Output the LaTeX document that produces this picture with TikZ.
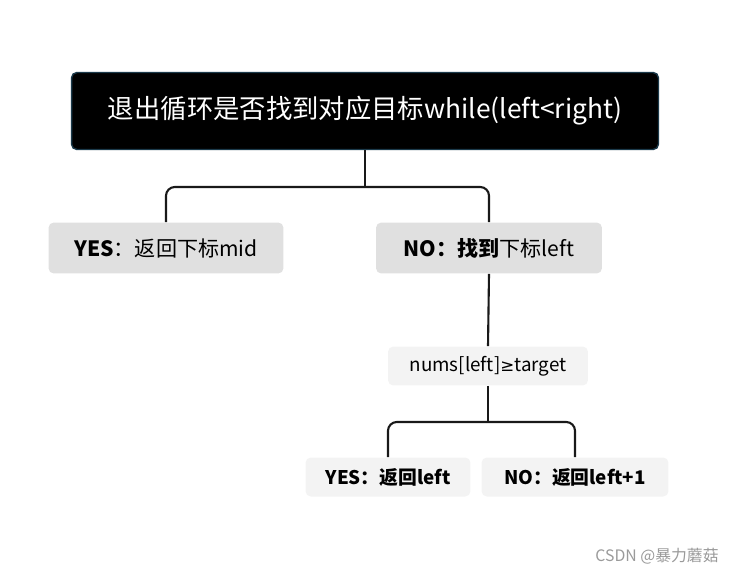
\documentclass[tikz,border=0pt]{standalone}
\usepackage{fontspec}
\setmainfont{Noto Sans CJK SC}
\newfontfamily\symb{DejaVu Sans}
\usepackage{tikz}
\usetikzlibrary{positioning}

\definecolor{rootedge}{HTML}{1B3A4B}
\definecolor{gray2}{HTML}{E0E0E0}
\definecolor{gray3}{HTML}{F3F3F3}
\definecolor{mark}{HTML}{9A9A9A}

\begin{document}
\begin{tikzpicture}[x=0.02cm,y=-0.02cm,
  rootbox/.style={draw=rootedge,line width=0.8pt,fill=black,text=white,rounded corners=3pt,
    minimum width=11.74cm,minimum height=1.54cm,font=\fontsize{15}{17}\selectfont},
  levelbox/.style={fill=gray2,rounded corners=3pt,minimum height=1.02cm,
    font=\fontsize{12}{14}\selectfont},
  leafbox/.style={fill=gray3,rounded corners=3pt,minimum height=0.78cm,
    font=\fontsize{10.7}{12}\selectfont},
  link/.style={draw=black!90,line width=1.2pt,rounded corners=5pt}]
\useasboundingbox (0,0) rectangle (743,574);

\node[rootbox] (root) at (365,111) {退出循环是否找到对应目标while(left<right)};

\node[levelbox,minimum width=4.7cm] (yes) at (166,248) {\textbf{YES}：返回下标mid};
\node[levelbox,minimum width=4.52cm] (no) at (489,248) {\textbf{NO：找到}下标left};

\node[leafbox,minimum width=4cm] (cond) at (488,366) {nums[left]{\symb\fontsize{9.5}{12}\selectfont ≥}target};

\node[leafbox,minimum width=3.3cm] (yesleft) at (388,477) {\textbf{YES：返回left}};
\node[leafbox,minimum width=3.74cm] (noleft) at (575,477) {\textbf{NO：返回left+1}};

\coordinate (split1) at (365,187);
\coordinate (split2) at (488,422);

% first level
\draw[link] (root.south) -- (split1);
\draw[link] (yes.north) |- (split1) -| (no.north);

% second level
\draw[link] (no.south) -- (cond.north);
\draw[link] (cond.south) -- (split2);
\draw[link] (yesleft.north) |- (split2) -| (noleft.north);

\node[text=mark,font=\fontsize{9}{11}\selectfont] (mark) at (657,556) {CSDN @暴力蘑菇};
\end{tikzpicture}
\end{document}
